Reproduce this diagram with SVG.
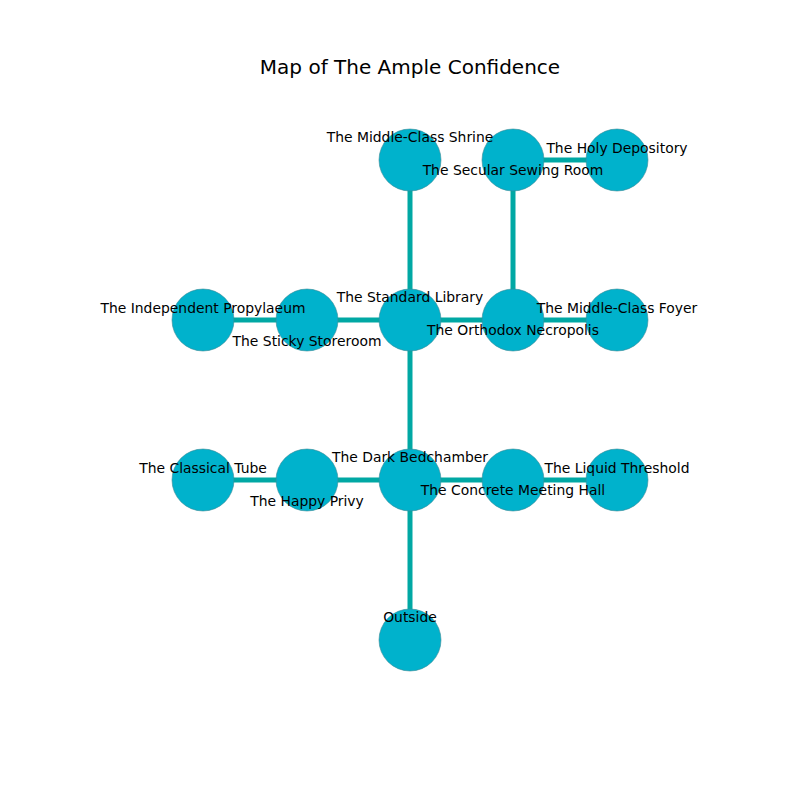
<svg xmlns="http://www.w3.org/2000/svg" width="800" height="800" viewBox="0 0 800 800">
<style>
.n{fill:#00b2cc;stroke:#3a8a96;stroke-width:0.6}
.e{stroke:#00a8a4;stroke-width:5;fill:none}
.l{font-family:"DejaVu Sans",sans-serif;font-size:13.9px;fill:#000;text-anchor:middle}
.t{font-family:"DejaVu Sans",sans-serif;font-size:20px;fill:#000;text-anchor:middle}
</style>
<rect width="800" height="800" fill="#fff"/>
<text class="t" x="410" y="74">Map of The Ample Confidence</text>
<g id="edges">
<line class="e" x1="410" y1="160" x2="410" y2="320"/>
<line class="e" x1="513" y1="160" x2="617" y2="160"/>
<line class="e" x1="513" y1="160" x2="513" y2="320"/>
<line class="e" x1="203" y1="320" x2="617" y2="320"/>
<line class="e" x1="410" y1="320" x2="410" y2="640"/>
<line class="e" x1="203" y1="480" x2="617" y2="480"/>
</g>
<g id="shrine"><circle class="n" cx="410" cy="160" r="31"/></g>
<g id="sewing"><circle class="n" cx="513" cy="160" r="31"/></g>
<g id="holy"><circle class="n" cx="617" cy="160" r="31"/></g>
<g id="propylaeum"><circle class="n" cx="203" cy="320" r="31"/></g>
<g id="storeroom"><circle class="n" cx="307" cy="320" r="31"/></g>
<g id="library"><circle class="n" cx="410" cy="320" r="31"/></g>
<g id="necropolis"><circle class="n" cx="513" cy="320" r="31"/></g>
<g id="foyer"><circle class="n" cx="617" cy="320" r="31"/></g>
<g id="tube"><circle class="n" cx="203" cy="480" r="31"/></g>
<g id="privy"><circle class="n" cx="307" cy="480" r="31"/></g>
<g id="bedchamber"><circle class="n" cx="410" cy="480" r="31"/></g>
<g id="meetinghall"><circle class="n" cx="513" cy="480" r="31"/></g>
<g id="threshold"><circle class="n" cx="617" cy="480" r="31"/></g>
<g id="outside"><circle class="n" cx="410" cy="640" r="31"/></g>
<g id="labels">
<text class="l" x="410" y="142">The Middle-Class Shrine</text>
<text class="l" x="513" y="175">The Secular Sewing Room</text>
<text class="l" x="617" y="153">The Holy Depository</text>
<text class="l" x="410" y="302">The Standard Library</text>
<text class="l" x="203" y="313">The Independent Propylaeum</text>
<text class="l" x="307" y="346">The Sticky Storeroom</text>
<text class="l" x="513" y="335">The Orthodox Necropolis</text>
<text class="l" x="617" y="313">The Middle-Class Foyer</text>
<text class="l" x="203" y="473">The Classical Tube</text>
<text class="l" x="307" y="506">The Happy Privy</text>
<text class="l" x="410" y="462">The Dark Bedchamber</text>
<text class="l" x="513" y="495">The Concrete Meeting Hall</text>
<text class="l" x="617" y="473">The Liquid Threshold</text>
<text class="l" x="410" y="622">Outside</text>
</g>
</svg>
